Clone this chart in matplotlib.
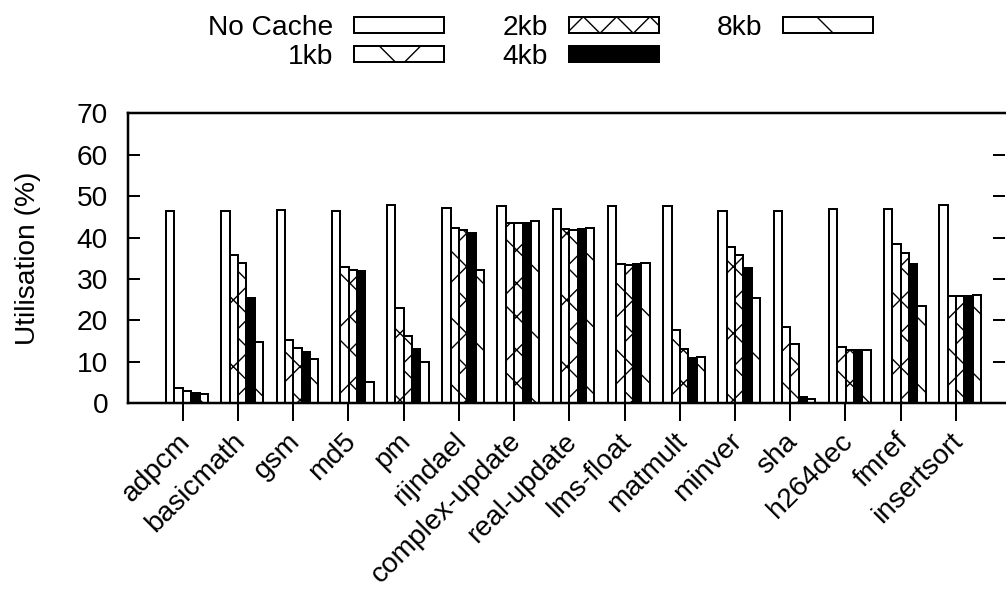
import matplotlib
matplotlib.use('Agg')
import matplotlib.pyplot as plt
from matplotlib.transforms import ScaledTranslation
import numpy as np

plt.rcParams['font.family'] = ['Liberation Sans', 'DejaVu Sans']
plt.rcParams['hatch.linewidth'] = 0.5

benchmarks = ['adpcm', 'basicmath', 'gsm', 'md5', 'pm', 'rijndael',
              'complex-update', 'real-update', 'lms-float', 'matmult',
              'minver', 'sha', 'h264dec', 'fmref', 'insertsort']
no_cache = [46.3, 46.4, 46.6, 46.3, 47.8, 47.2, 47.6, 47.0, 47.7, 47.6,
            46.4, 46.4, 47.0, 46.8, 47.9]
kb1 = [3.8, 35.8, 15.2, 32.8, 23.0, 42.4, 43.6, 42.1, 33.6, 17.6,
       37.8, 18.4, 13.7, 38.4, 26.0]
kb2 = [3.0, 33.8, 13.4, 32.1, 16.2, 41.8, 43.6, 41.8, 33.5, 13.2,
       35.7, 14.4, 12.8, 36.4, 25.9]
kb4 = [2.4, 25.4, 12.4, 32.0, 13.2, 41.0, 43.6, 42.1, 33.6, 11.0,
       32.6, 1.6, 12.8, 33.7, 25.9]
kb8 = [2.2, 14.8, 10.7, 5.2, 9.9, 32.2, 44.0, 42.4, 33.9, 11.2,
       25.4, 1.0, 12.8, 23.6, 26.2]

series = [('No Cache', no_cache, 'white', ''),
          ('1kb', kb1, 'white', 'x'),
          ('2kb', kb2, 'white', 'xx'),
          ('4kb', kb4, 'black', ''),
          ('8kb', kb8, 'white', '\\')]

DPI = 200
W, H = 1006, 595
px = 72.0 / DPI  # one pixel in points

fig = plt.figure(figsize=(W / DPI, H / DPI), dpi=DPI)
# axes box in pixel terms of the canvas
left, right, bottom, top = 127.5, 1005, H - 403.3, H - 113.3
ax = fig.add_axes([left / W, bottom / H, (right - left) / W, (top - bottom) / H])

x = np.arange(len(benchmarks))
w = 0.151
for i, (name, vals, fc, hatch) in enumerate(series):
    ax.bar(x - 0.30 + w * (i + 0.5), vals, width=w, color=fc,
           edgecolor='black', hatch=hatch, linewidth=2 * px, label=name)

ax.set_xlim(-1, 14.89)
ax.set_ylim(0, 70)
ax.set_yticks(range(0, 71, 10))
ax.set_xticks(x)
ax.set_xticklabels(benchmarks, rotation=45, ha='right', va='top',
                   rotation_mode='anchor')

fs = 28.2 * px
ax.tick_params(axis='y', direction='in', length=12 * px, width=2 * px,
               labelsize=fs, pad=19.5 * px, right=True)
ax.tick_params(axis='x', direction='out', length=18 * px, width=2 * px,
               labelsize=fs, pad=7 * px)
shift = ScaledTranslation(-6 / DPI, 0, fig.dpi_scale_trans)
for lab in ax.get_xticklabels():
    lab.set_transform(lab.get_transform() + shift)

ax.spines['right'].set_visible(False)
for s in ['left', 'top', 'bottom']:
    ax.spines[s].set_linewidth(2.5 * px)

fig.text(28 / W, 1 - 258 / H, 'Utilisation (%)', rotation=90,
         ha='center', va='center', fontsize=fs)

leg = fig.legend(loc='upper left', bbox_to_anchor=(208 / W, 1 - 15 / H),
                 ncol=3, frameon=False, markerfirst=False, fontsize=fs,
                 handlelength=3.19, handleheight=0.5, handletextpad=0.75,
                 columnspacing=2.05, labelspacing=0.11, borderpad=0,
                 borderaxespad=0)
for p in leg.get_patches():
    p.set_linewidth(2 * px)

fig.savefig('out.png', dpi=DPI)
